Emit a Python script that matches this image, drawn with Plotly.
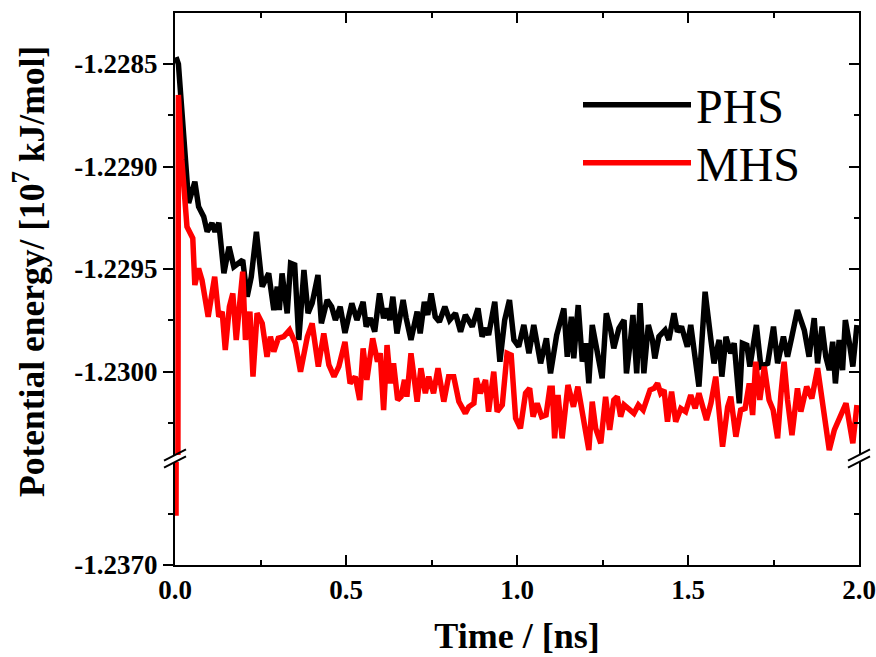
import plotly.graph_objects as go

# ---------------- data ----------------
phs_time = [0.003, 0.010, 0.040, 0.058, 0.069, 0.084, 0.094, 0.108, 0.117, 0.128, 0.143, 0.158, 0.172, 0.187, 0.198,
            0.211, 0.223, 0.238, 0.255, 0.274, 0.289, 0.299, 0.305, 0.313, 0.328, 0.338, 0.350, 0.362, 0.377, 0.389,
            0.401, 0.418, 0.428, 0.445, 0.458, 0.469, 0.483, 0.497, 0.517, 0.532, 0.550, 0.559, 0.571, 0.584, 0.598,
            0.610, 0.620, 0.628, 0.637, 0.649, 0.667, 0.676, 0.690, 0.708, 0.717, 0.729, 0.739, 0.749, 0.761, 0.773,
            0.789, 0.803, 0.820, 0.835, 0.849, 0.869, 0.886, 0.898, 0.910, 0.917, 0.935, 0.950, 0.964, 0.978, 0.991,
            1.005, 1.020, 1.035, 1.049, 1.069, 1.086, 1.098, 1.116, 1.137, 1.147, 1.159, 1.166, 1.179, 1.191, 1.201,
            1.210, 1.220, 1.235, 1.249, 1.261, 1.274, 1.283, 1.298, 1.313, 1.320, 1.332, 1.339, 1.350, 1.360, 1.371,
            1.384, 1.396, 1.403, 1.415, 1.433, 1.444, 1.459, 1.469, 1.481, 1.498, 1.508, 1.532, 1.550, 1.567, 1.576,
            1.591, 1.599, 1.611, 1.625, 1.635, 1.650, 1.659, 1.672, 1.681, 1.700, 1.713, 1.733, 1.750, 1.762, 1.779,
            1.791, 1.804, 1.820, 1.840, 1.854, 1.869, 1.879, 1.892, 1.903, 1.913, 1.923, 1.931, 1.942, 1.952, 1.960,
            1.972, 1.982, 1.994]
phs_energy = [-1.228466, -1.228500, -1.229178, -1.229074, -1.229196, -1.229245, -1.229318, -1.229276, -1.229318,
              -1.229274, -1.229520, -1.229391, -1.229489, -1.229472, -1.229456, -1.229635, -1.229538, -1.229318,
              -1.229586, -1.229521, -1.229700, -1.229586, -1.229700, -1.229521, -1.229716, -1.229472, -1.229480,
              -1.229846, -1.229505, -1.229716, -1.229667, -1.229529, -1.229765, -1.229651, -1.229684, -1.229749,
              -1.229684, -1.229812, -1.229667, -1.229749, -1.229660, -1.229781, -1.229740, -1.229806, -1.229619,
              -1.229740, -1.229692, -1.229749, -1.229635, -1.229814, -1.229651, -1.229740, -1.229846, -1.229708,
              -1.229814, -1.229660, -1.229724, -1.229619, -1.229733, -1.229757, -1.229684, -1.229749, -1.229716,
              -1.229806, -1.229724, -1.229781, -1.229692, -1.229830, -1.229789, -1.229822, -1.229660, -1.229952,
              -1.229749, -1.229651, -1.229846, -1.229879, -1.229773, -1.229911, -1.229773, -1.229960, -1.229838,
              -1.230009, -1.229822, -1.229692, -1.229928, -1.229733, -1.229936, -1.229676, -1.229952, -1.229862,
              -1.230058, -1.229773, -1.229928, -1.230033, -1.229716, -1.229798, -1.229887, -1.229789, -1.229749,
              -1.230009, -1.229846, -1.229724, -1.230009, -1.229667, -1.230009, -1.229773, -1.229846, -1.229936,
              -1.229830, -1.229798, -1.229846, -1.229716, -1.229806, -1.229781, -1.229879, -1.229773, -1.230074,
              -1.229611, -1.229846, -1.229960, -1.229846, -1.230025, -1.229830, -1.229911, -1.229862, -1.230155,
              -1.229862, -1.229871, -1.229976, -1.229773, -1.229976, -1.229960, -1.229781, -1.229960, -1.229830,
              -1.229928, -1.229827, -1.229700, -1.229798, -1.229928, -1.229740, -1.229960, -1.229781, -1.229928,
              -1.229993, -1.229855, -1.230058, -1.229846, -1.229993, -1.229749, -1.229862, -1.229976, -1.229773]

mhs_time = [0.003, 0.010, 0.020, 0.035, 0.052, 0.058, 0.069, 0.079, 0.097, 0.116, 0.128, 0.138, 0.147, 0.159, 0.169,
            0.179, 0.198, 0.206, 0.219, 0.228, 0.240, 0.255, 0.269, 0.279, 0.289, 0.302, 0.318, 0.335, 0.352, 0.367,
            0.387, 0.401, 0.419, 0.435, 0.450, 0.465, 0.479, 0.497, 0.512, 0.527, 0.540, 0.550, 0.561, 0.578, 0.592,
            0.600, 0.610, 0.620, 0.630, 0.639, 0.651, 0.661, 0.671, 0.678, 0.690, 0.708, 0.719, 0.732, 0.742, 0.756,
            0.769, 0.786, 0.800, 0.815, 0.830, 0.849, 0.859, 0.874, 0.881, 0.893, 0.908, 0.917, 0.932, 0.942, 0.957,
            0.971, 0.983, 0.996, 1.010, 1.025, 1.037, 1.047, 1.059, 1.072, 1.085, 1.096, 1.103, 1.110, 1.120, 1.132,
            1.149, 1.165, 1.178, 1.191, 1.210, 1.220, 1.230, 1.245, 1.259, 1.271, 1.283, 1.293, 1.303, 1.313, 1.327,
            1.342, 1.355, 1.369, 1.389, 1.401, 1.411, 1.420, 1.430, 1.440, 1.452, 1.464, 1.479, 1.493, 1.508, 1.521,
            1.532, 1.554, 1.567, 1.581, 1.601, 1.616, 1.625, 1.640, 1.654, 1.667, 1.679, 1.689, 1.698, 1.710, 1.723,
            1.737, 1.749, 1.762, 1.772, 1.781, 1.791, 1.804, 1.820, 1.830, 1.847, 1.862, 1.879, 1.892, 1.913, 1.928,
            1.945, 1.962, 1.982, 1.994]
mhs_energy = [-1.236760, -1.228651, -1.228968, -1.229294, -1.229350, -1.229578, -1.229497, -1.229554, -1.229733,
              -1.229538, -1.229733, -1.229708, -1.229895, -1.229684, -1.229619, -1.229846, -1.229513, -1.229846,
              -1.229708, -1.230025, -1.229716, -1.229765, -1.229928, -1.229830, -1.229903, -1.229838, -1.229830,
              -1.229798, -1.229862, -1.230001, -1.229830, -1.229765, -1.229976, -1.229814, -1.229968, -1.230025,
              -1.229976, -1.229855, -1.230058, -1.230025, -1.230139, -1.229887, -1.230041, -1.229838, -1.229952,
              -1.229911, -1.230188, -1.229871, -1.230058, -1.229960, -1.230139, -1.230123, -1.230041, -1.230123,
              -1.229911, -1.230147, -1.229984, -1.230106, -1.230025, -1.230106, -1.229984, -1.230147, -1.230025,
              -1.230025, -1.230147, -1.230204, -1.230172, -1.230155, -1.230033, -1.230106, -1.230041, -1.230196,
              -1.230001, -1.230196, -1.230163, -1.229911, -1.229920, -1.230228, -1.230277, -1.230106, -1.230082,
              -1.230220, -1.230155, -1.230220, -1.230212, -1.230082, -1.230082, -1.230326, -1.230115, -1.230326,
              -1.230066, -1.230172, -1.230074, -1.230196, -1.230383, -1.230147, -1.230277, -1.230350, -1.230123,
              -1.230285, -1.230139, -1.230123, -1.230220, -1.230163, -1.230180, -1.230204, -1.230163, -1.230188,
              -1.230090, -1.230082, -1.230058, -1.230106, -1.230090, -1.230245, -1.230098, -1.230245, -1.230180,
              -1.230196, -1.230115, -1.230180, -1.230106, -1.230237, -1.230155, -1.230025, -1.230367, -1.230172,
              -1.230123, -1.230318, -1.230188, -1.230180, -1.230058, -1.230212, -1.229952, -1.230139, -1.229976,
              -1.230139, -1.230188, -1.230326, -1.230106, -1.229952, -1.230139, -1.230310, -1.230082, -1.230196,
              -1.230074, -1.230131, -1.229984, -1.230139, -1.230383, -1.230285, -1.230212, -1.230155, -1.230350,
              -1.230163]

x_ticks = [0.0, 0.5, 1.0, 1.5, 2.0]
x_tick_labels = ["0.0", "0.5", "1.0", "1.5", "2.0"]
x_minor = [0.25, 0.75, 1.25, 1.75]
y_upper_ticks = [-1.2300, -1.2295, -1.2290, -1.2285]
y_upper_labels = ["-1.2300", "-1.2295", "-1.2290", "-1.2285"]
y_upper_minor = [-1.23025, -1.22975, -1.22925, -1.22875]
y_lower_ticks = [-1.2370]
y_lower_labels = ["-1.2370"]
y_lower_minor = [-1.23675]

# ---------------- layout geometry (page pixel coordinates) ----------------
W, H = 876, 657
L, R, T, BOT = 175, 859, 13, 565   # plot-area edges on the page
plot_w = R - L
plot_h = BOT - T
upper_range = [-1.2304073, -1.228251]
lower_range = [-1.2370, -1.2364976]
upper_dom = [(BOT - 455) / plot_h, 1.0]
lower_dom = [0.0, (BOT - 462) / plot_h]

FONT = "Liberation Serif"
BLACK = "#000000"
RED = "#ff0000"
LW = 5.5


def px_x(px):
    return (px - L) / plot_w


def px_y(py):
    return (BOT - py) / plot_h


def bold(labels):
    return ["<b>%s</b>" % s for s in labels]


fig = go.Figure()
fig.add_trace(go.Scatter(x=phs_time, y=phs_energy, mode="lines", name="PHS", legend="legend",
                         line=dict(color=BLACK, width=LW), xaxis="x", yaxis="y"))
fig.add_trace(go.Scatter(x=mhs_time, y=mhs_energy, mode="lines", name="MHS", legend="legend2",
                         legendgroup="mhs", line=dict(color=RED, width=LW), xaxis="x", yaxis="y"))
fig.add_trace(go.Scatter(x=mhs_time, y=mhs_energy, mode="lines", name="MHS", legendgroup="mhs",
                         showlegend=False, line=dict(color=RED, width=LW), xaxis="x", yaxis="y2"))
# empty traces so the mirror axes (top / right) are drawn
fig.add_trace(go.Scatter(x=[], y=[], xaxis="x2", yaxis="y3", showlegend=False, hoverinfo="skip"))
fig.add_trace(go.Scatter(x=[], y=[], xaxis="x", yaxis="y4", showlegend=False, hoverinfo="skip"))

tickfont = dict(family=FONT, size=27, color=BLACK)
common_y = dict(showgrid=False, zeroline=False, showline=True, linecolor=BLACK, linewidth=2,
                tickwidth=2, tickcolor=BLACK, automargin=False)
legend_common = dict(xanchor="left", yanchor="top", bgcolor="rgba(0,0,0,0)", borderwidth=0,
                     itemwidth=108, font=dict(family=FONT, size=48, color=BLACK))

fig.update_layout(
    width=W, height=H,
    margin=dict(l=L, r=W - R, t=T, b=H - BOT),
    paper_bgcolor="white", plot_bgcolor="white",
    font=dict(family=FONT, color=BLACK),
    xaxis=dict(range=[0, 2.0], anchor="y2", showgrid=False, zeroline=False, showline=True, automargin=False,
               linecolor=BLACK, linewidth=2, ticks="inside", ticklen=10, tickwidth=2, tickcolor=BLACK,
               tickmode="array", tickvals=x_ticks, ticktext=bold(x_tick_labels), tickfont=tickfont,
               minor=dict(tickmode="array", tickvals=x_minor, ticks="inside", ticklen=5, tickwidth=2,
                          tickcolor=BLACK, showgrid=False),
               title=dict(text="<b>Time / [ns]</b>", font=dict(family=FONT, size=36, color=BLACK),
                          standoff=18)),
    xaxis2=dict(range=[0, 2.0], overlaying="x", anchor="y", side="top", showgrid=False, zeroline=False,
                showline=True, linecolor=BLACK, linewidth=2, ticks="inside", ticklen=10, tickwidth=2,
                tickcolor=BLACK, tickmode="array", tickvals=x_ticks, showticklabels=False, automargin=False,
                minor=dict(tickmode="array", tickvals=x_minor, ticks="inside", ticklen=5, tickwidth=2,
                           tickcolor=BLACK, showgrid=False)),
    yaxis=dict(range=upper_range, domain=upper_dom, anchor="x", ticks="outside", ticklen=10,
               tickmode="array", tickvals=y_upper_ticks, ticktext=bold(y_upper_labels), tickfont=tickfont,
               minor=dict(tickmode="array", tickvals=y_upper_minor, ticks="outside", ticklen=5, tickwidth=2,
                          tickcolor=BLACK, showgrid=False), **common_y),
    yaxis2=dict(range=lower_range, domain=lower_dom, anchor="x", ticks="outside", ticklen=10,
                tickmode="array", tickvals=y_lower_ticks, ticktext=bold(y_lower_labels), tickfont=tickfont,
                minor=dict(tickmode="array", tickvals=y_lower_minor, ticks="outside", ticklen=5, tickwidth=2,
                           tickcolor=BLACK, showgrid=False), **common_y),
    yaxis3=dict(range=upper_range, domain=upper_dom, overlaying="y", anchor="x2", side="right",
                ticks="inside", ticklen=10, tickmode="array", tickvals=y_upper_ticks, showticklabels=False,
                minor=dict(tickmode="array", tickvals=y_upper_minor, ticks="inside", ticklen=5, tickwidth=2,
                           tickcolor=BLACK, showgrid=False), **common_y),
    yaxis4=dict(range=lower_range, domain=lower_dom, overlaying="y2", anchor="x", side="right",
                ticks="inside", ticklen=10, tickmode="array", tickvals=y_lower_ticks, showticklabels=False,
                minor=dict(tickmode="array", tickvals=y_lower_minor, ticks="inside", ticklen=5, tickwidth=2,
                           tickcolor=BLACK, showgrid=False), **common_y),
    legend=dict(x=px_x(578), y=px_y(67), **legend_common),
    legend2=dict(x=px_x(578), y=px_y(125), **legend_common),
    showlegend=True,
)

# y-axis title (spans both segments)
fig.add_annotation(text="<b>Potential energy/ [10<sup>7</sup> kJ/mol]</b>", xref="paper", yref="paper",
                   x=px_x(29), y=px_y(272), xanchor="center", yanchor="middle",
                   textangle=-90, showarrow=False,
                   font=dict(family=FONT, size=35.5, color=BLACK))

# axis-break marks on left and right axes
for cx in (L, R):
    for cy in (455, 462):
        fig.add_shape(type="line", xref="paper", yref="paper",
                      x0=px_x(cx - 11), y0=px_y(cy + 5.7), x1=px_x(cx + 11), y1=px_y(cy - 5.7),
                      line=dict(color=BLACK, width=2))

# remove the browser's default page margin so the figure fills the window exactly
fig.write_html("out.html", config={"displayModeBar": False},
               post_script="document.body.style.margin='0';document.body.style.overflow='hidden';")
